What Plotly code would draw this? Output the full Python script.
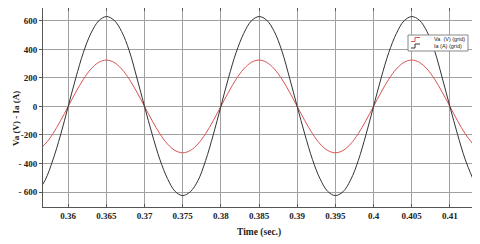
import plotly.graph_objects as go

t_ms = list(range(356, 414))
time_s = [v / 1000 for v in t_ms]

va_grid = [-309, -263, -191, -100, 0, 100, 191, 263, 309, 325, 309, 263, 191, 100, 0,
           -100, -191, -263, -309, -325, -309, -263, -191, -100, 0, 100, 191, 263, 309, 325,
           309, 263, 191, 100, 0, -100, -191, -263, -309, -325, -309, -263, -191, -100, 0,
           100, 191, 263, 309, 325, 309, 263, 191, 100, 0, -100, -191, -263]

ia_grid = [-600, -515, -375, -200, 0, 200, 380, 515, 600, 630, 605, 525, 390, 200, 0,
           -195, -370, -505, -595, -625, -598, -520, -380, -200, 0, 200, 378, 512, 600, 630,
           605, 525, 388, 200, 0, -195, -372, -508, -596, -625, -598, -515, -380, -200, 0,
           200, 378, 512, 600, 630, 605, 525, 390, 200, 0, -195, -370, -505]

x_ticks = [0.36, 0.365, 0.37, 0.375, 0.38, 0.385, 0.39, 0.395, 0.4, 0.405, 0.41]
x_tick_text = ["0.36", "0.365", "0.37", "0.375", "0.38", "0.385", "0.39", "0.395", "0.4", "0.405", "0.41"]
y_ticks = [600, 400, 200, 0, -200, -400, -600]
y_tick_text = ["600", "400", "200", "0", "-200", "- 400", "- 600"]

series_names = ["Va  (V) (grid)", "Ia (A) (grid)"]
series_colors = ["#d9534f", "#333333"]

serif = "Liberation Serif, Times New Roman, DejaVu Serif, serif"

fig = go.Figure()
fig.add_trace(go.Scatter(x=time_s, y=va_grid, mode="lines", name=series_names[0],
                         line=dict(color=series_colors[0], width=1, shape="spline")))
fig.add_trace(go.Scatter(x=time_s, y=ia_grid, mode="lines", name=series_names[1],
                         line=dict(color=series_colors[1], width=1, shape="spline")))

tick_font = dict(family=serif, size=9, color="#222", weight="bold")
title_font = dict(family=serif, size=9.5, color="#222", weight="bold")

# page has an 8px body margin; positions below are page pixels
OFF = 8
W, H = 480 - OFF, 244 - OFF
L, R, T, B = 43, 472, 8, 207   # plot area in page pixels
def px(x):
    return (x - L) / (R - L)
def py(y):
    return (B - y) / (B - T)

shapes = [
    dict(type="rect", xref="paper", yref="paper", x0=px(408), x1=px(468), y0=py(51), y1=py(35),
         line=dict(color="#888", width=1), fillcolor="white", layer="above"),
]
annotations = [
    dict(text="Time (sec.)", xref="paper", yref="paper", x=px(259), y=py(233),
         showarrow=False, font=title_font, xanchor="center", yanchor="middle"),
    dict(text="Va (V) - Ia (A)", xref="paper", yref="paper", x=px(9), y=py(119),
         showarrow=False, font=dict(family=serif, size=9, color="#222", weight="bold"),
         textangle=-90, xanchor="left", yanchor="middle"),
]
for i, (nm, col) in enumerate(zip(series_names, series_colors)):
    yc = 39.5 + i * 6.5
    path = "M {} {} L {} {} L {} {} L {} {}".format(
        px(411), py(yc + 2), px(415), py(yc + 2), px(415), py(yc - 2), px(420), py(yc - 2))
    shapes.append(dict(type="path", xref="paper", yref="paper", path=path,
                       line=dict(color=col, width=1), layer="above"))
    annotations.append(dict(text=nm, xref="paper", yref="paper", x=px(432), y=py(yc),
                            showarrow=False, xanchor="left", yanchor="middle",
                            font=dict(family="Liberation Sans, Arial, sans-serif", size=5.5,
                                      color="#222")))

fig.update_layout(
    width=W, height=H,
    margin=dict(l=L - OFF, r=480 - R, t=T - OFF, b=244 - B, pad=0),
    paper_bgcolor="white", plot_bgcolor="white",
    showlegend=False,
    shapes=shapes, annotations=annotations,
    xaxis=dict(range=[0.3567, 0.4129], tickvals=x_ticks, ticktext=x_tick_text,
               tickfont=tick_font, showgrid=True, gridcolor="#a0a0a0", gridwidth=1,
               zeroline=False, showline=True, linecolor="#555", linewidth=1, mirror="ticks",
               ticks="inside", ticklen=3, tickcolor="#555", automargin=False),
    yaxis=dict(range=[-705, 690], tickvals=y_ticks, ticktext=y_tick_text,
               tickfont=tick_font, showgrid=True, gridcolor="#a0a0a0", gridwidth=1,
               zeroline=False, showline=True, linecolor="#555", linewidth=1, mirror="ticks",
               ticks="outside", ticklen=3, tickcolor="#555", automargin=False),
)

fig.write_html("out.html")
